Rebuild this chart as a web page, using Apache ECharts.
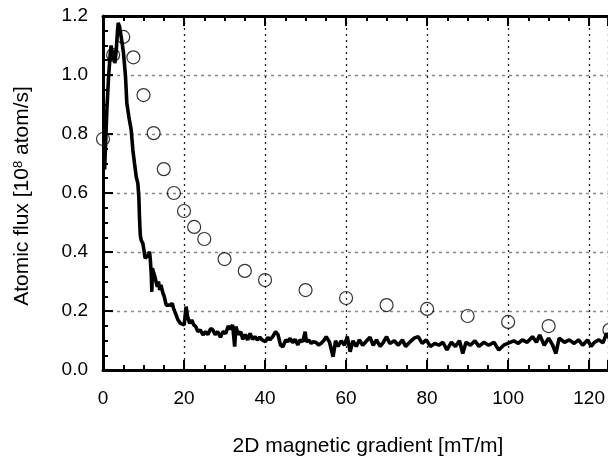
<!DOCTYPE html>
<html>
<head>
<meta charset="utf-8">
<script src="https://cdn.jsdelivr.net/npm/echarts@6/dist/echarts.min.js"></script>
<style>
html,body{margin:0;padding:0;background:#fff;}
#chart{width:608px;height:457px;}
</style>
</head>
<body>
<div id="chart"></div>
<script>
// Measured flux curve (x in mT/m, y in 1e8 atom/s)
var curveX = [0.4,0.95,1.36,1.77,2.0,2.27,2.4,2.68,2.9,3.25,3.58,3.75,4.08,4.4,4.74,5.06,5.31,5.56,5.88,6.38,6.96,7.37,7.78,8.2,8.6,8.85,9.0,9.2,9.43,9.84,10.1,10.4,10.8,11.2,11.5,11.7,11.9,12.06,12.2,12.5,12.8,13.1,13.4,13.7,14.0,14.3,14.8,15.1,15.6,16.0,16.6,17.1,17.4,17.9,18.5,19.1,19.5,20.05,20.5,20.9,21.4,21.9,22.4,22.9,23.4,24.0,24.7,25.3,25.9,26.6,27.1,27.7,28.3,29.0,29.6,30.3,30.9,31.5,32.0,32.5,32.8,33.4,34.0,34.5,35.1,35.7,36.3,36.9,37.5,38.1,38.7,39.3,40.1,40.7,41.2,41.9,42.6,43.2,43.8,44.4,45.1,45.6,46.2,46.8,47.4,48.1,48.6,49.3,49.9,50.2,50.8,51.4,51.9,52.6,53.2,53.8,54.5,55.1,55.9,56.8,57.4,58.0,58.8,59.6,60.3,61.0,61.7,62.5,63.3,64.1,65.1,65.9,66.7,67.5,68.4,69.2,70.0,70.8,71.9,72.9,73.9,74.7,75.7,76.8,77.8,78.8,79.8,80.8,81.9,82.9,83.9,84.9,86.0,87.0,88.0,88.8,89.6,90.7,91.8,92.8,94.0,95.2,96.5,97.7,98.9,100.2,101.4,102.5,103.5,104.7,106.0,107.0,107.8,108.9,110.0,111.0,111.8,112.6,113.9,115.1,116.3,117.4,118.4,119.6,120.5,121.3,122.4,123.4,124.3,125.2,126.2];
var curveY = [0.68,0.88,0.99,1.07,1.10,1.07,1.05,1.085,1.04,1.08,1.15,1.177,1.164,1.136,1.107,1.074,1.034,0.994,0.904,0.859,0.814,0.746,0.70,0.655,0.633,0.587,0.52,0.458,0.44,0.429,0.407,0.379,0.384,0.39,0.401,0.37,0.328,0.265,0.345,0.35,0.316,0.32,0.282,0.30,0.271,0.288,0.26,0.25,0.22,0.22,0.22,0.226,0.209,0.192,0.17,0.158,0.16,0.153,0.215,0.18,0.158,0.17,0.153,0.147,0.13,0.136,0.119,0.13,0.12,0.141,0.136,0.12,0.13,0.111,0.13,0.124,0.149,0.138,0.153,0.079,0.147,0.12,0.13,0.104,0.12,0.102,0.124,0.104,0.113,0.102,0.111,0.102,0.096,0.111,0.102,0.113,0.13,0.12,0.085,0.079,0.102,0.096,0.107,0.093,0.104,0.085,0.102,0.096,0.13,0.096,0.102,0.09,0.096,0.093,0.085,0.09,0.10,0.113,0.095,0.045,0.099,0.08,0.099,0.084,0.113,0.062,0.099,0.08,0.102,0.084,0.099,0.111,0.084,0.102,0.08,0.094,0.113,0.09,0.099,0.084,0.102,0.08,0.094,0.108,0.113,0.09,0.102,0.08,0.09,0.084,0.094,0.068,0.094,0.08,0.099,0.056,0.094,0.084,0.099,0.08,0.094,0.084,0.094,0.068,0.084,0.092,0.099,0.09,0.102,0.094,0.113,0.094,0.119,0.084,0.108,0.084,0.056,0.108,0.094,0.102,0.09,0.102,0.084,0.102,0.08,0.094,0.102,0.092,0.124,0.102,0.094];
// Open-circle data points
var pointX = [0,2.5,5,7.5,10,12.5,15,17.5,20,22.5,25,30,35,40,50,60,70,80,90,100,110,125];
var pointY = [0.783,1.068,1.129,1.06,0.932,0.803,0.681,0.60,0.539,0.485,0.444,0.376,0.336,0.305,0.271,0.244,0.22,0.207,0.183,0.163,0.149,0.136];
// Axis ticks
var xTicks = [0,20,40,60,80,100,120];
var yTicks = [0.0,0.2,0.4,0.6,0.8,1.0,1.2];
var xVisibleMax = 124.6;

var curve = curveX.map(function(x,i){return [x,curveY[i]];});
var points = pointX.map(function(x,i){return [x,pointY[i]];});

var FONT = '"Liberation Sans", Arial, Helvetica, sans-serif';
var chart = echarts.init(document.getElementById('chart'), null, {renderer:'canvas'});
chart.setOption({
  animation:false,
  backgroundColor:'#fff',
  grid:{left:103, right:0, top:16, bottom:87, containLabel:false},
  xAxis:[{
    type:'value', min:xTicks[0], max:xVisibleMax, interval:20, position:'bottom',
    axisLine:{show:true, onZero:false, lineStyle:{color:'#000', width:3}},
    axisTick:{show:true, inside:true, length:10, lineStyle:{color:'#000', width:2}},
    minorTick:{show:true, splitNumber:4, length:5, lineStyle:{color:'#000', width:2}},
    axisLabel:{color:'#000', fontSize:19, fontFamily:FONT, margin:19, showMaxLabel:false,
      formatter:function(v){return xTicks.indexOf(v)>=0? String(v):'';}},
    splitLine:{show:true, lineStyle:{color:'#222', width:1.3, type:[2,4]}}
  },{
    type:'value', min:xTicks[0], max:xVisibleMax, interval:20, position:'top',
    axisLine:{show:true, onZero:false, lineStyle:{color:'#000', width:3}},
    axisTick:{show:true, inside:true, length:10, lineStyle:{color:'#000', width:2}},
    minorTick:{show:true, splitNumber:4, length:5, lineStyle:{color:'#000', width:2}},
    axisLabel:{show:false}, splitLine:{show:false}
  }],
  yAxis:{
    type:'value', min:yTicks[0], max:yTicks[yTicks.length-1], interval:0.2,
    axisLine:{show:true, onZero:false, lineStyle:{color:'#000', width:3}},
    axisTick:{show:true, inside:true, length:10, lineStyle:{color:'#000', width:2}},
    minorTick:{show:true, splitNumber:4, length:5, lineStyle:{color:'#000', width:2}},
    axisLabel:{color:'#000', fontSize:19, fontFamily:FONT, margin:15, formatter:function(v){return v.toFixed(1);}},
    splitLine:{show:true, lineStyle:{color:'#888', width:1.3, type:[3,4]}}
  },
  graphic:[{
    type:'text', x:22, y:196, rotation:Math.PI/2,
    style:{
      text:'Atomic flux [10{sup|8} atom/s]',
      font:'21px ' + FONT, fill:'#000', align:'center', verticalAlign:'middle',
      rich:{sup:{fontSize:13, fontFamily:FONT, fill:'#000', verticalAlign:'top', padding:[0,0,6,0]}}
    }
  },{
    type:'text', x:368, y:446,
    style:{
      text:'2D magnetic gradient [mT/m]',
      font:'21px ' + FONT, fill:'#000', align:'center', verticalAlign:'middle'
    }
  }],
  series:[{
    type:'line', data:curve, showSymbol:false, symbol:'none',
    lineStyle:{color:'#000', width:3.6}, z:3, clip:true
  },{
    type:'scatter', data:points, symbol:'circle', symbolSize:13,
    itemStyle:{color:'rgba(255,255,255,0)', borderColor:'#000', borderWidth:1.2},
    z:4, clip:false
  }]
});
</script>
</body>
</html>
